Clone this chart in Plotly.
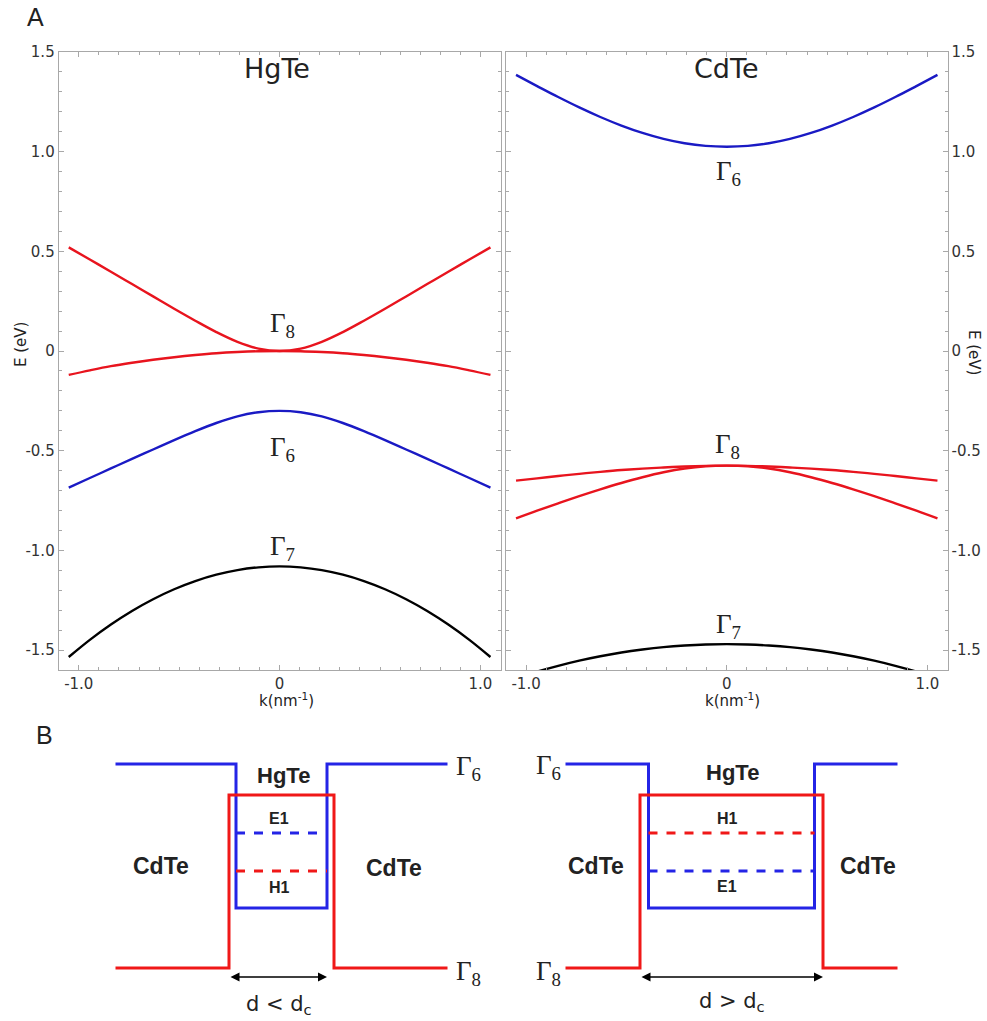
import plotly.graph_objects as go

W, H = 987, 1021

# ---------------- Panel A data ----------------
k = [-1.05, -0.945, -0.84, -0.735, -0.63, -0.525, -0.42, -0.315, -0.21, -0.105, 0.0,
     0.105, 0.21, 0.315, 0.42, 0.525, 0.63, 0.735, 0.84, 0.945, 1.05]

hgte_g8_up = [0.52, 0.459, 0.398, 0.336, 0.274, 0.212, 0.152, 0.095, 0.046, 0.012, 0.0,
              0.012, 0.046, 0.095, 0.152, 0.212, 0.274, 0.336, 0.398, 0.459, 0.52]
hgte_g8_dn = [-0.12, -0.097, -0.076, -0.059, -0.044, -0.031, -0.020, -0.011, -0.005, -0.001, 0.0,
              -0.001, -0.005, -0.011, -0.020, -0.031, -0.044, -0.059, -0.076, -0.097, -0.12]
hgte_g6 = [-0.685, -0.637, -0.589, -0.541, -0.494, -0.447, -0.402, -0.361, -0.328, -0.307, -0.30,
           -0.307, -0.328, -0.361, -0.402, -0.447, -0.494, -0.541, -0.589, -0.637, -0.685]
hgte_g7 = [-1.535, -1.449, -1.372, -1.304, -1.245, -1.195, -1.154, -1.122, -1.099, -1.085, -1.08,
           -1.085, -1.099, -1.122, -1.154, -1.195, -1.245, -1.304, -1.372, -1.449, -1.535]

cdte_g6 = [1.385, 1.329, 1.274, 1.222, 1.174, 1.131, 1.094, 1.064, 1.042, 1.029, 1.025,
           1.029, 1.042, 1.064, 1.094, 1.131, 1.174, 1.222, 1.274, 1.329, 1.385]
cdte_g8_hh = [-0.65, -0.639, -0.627, -0.616, -0.606, -0.597, -0.590, -0.584, -0.579, -0.576, -0.575,
              -0.576, -0.579, -0.584, -0.590, -0.597, -0.606, -0.616, -0.627, -0.639, -0.65]
cdte_g8_lh = [-0.84, -0.801, -0.764, -0.728, -0.694, -0.662, -0.633, -0.608, -0.589, -0.578, -0.575,
              -0.578, -0.589, -0.608, -0.633, -0.662, -0.694, -0.728, -0.764, -0.801, -0.84]
cdte_g7 = [-1.64, -1.608, -1.579, -1.553, -1.531, -1.512, -1.497, -1.485, -1.477, -1.472, -1.47,
           -1.472, -1.477, -1.485, -1.497, -1.512, -1.531, -1.553, -1.579, -1.608, -1.64]

y_tickvals = [1.5, 1.0, 0.5, 0.0, -0.5, -1.0, -1.5]
y_ticktext = ["1.5", "1.0", "0.5", "0", "-0.5", "-1.0", "-1.5"]
x_tickvals = [-1.0, 0.0, 1.0]
x_ticktext = ["-1.0", "0", "1.0"]

# ---------------- Panel B data (schematic band profiles) ----------------
barrier_edge = 16.6
thin_blue_half, thin_red_half = 4.55, 5.25
thick_blue_half, thick_red_half = 8.3, 9.15
g6_barrier, g6_well = 1.0, 0.294
g8_barrier, g8_well = 0.0, 0.848
level_upper, level_lower = 0.662, 0.475

RED_A = "#e8141e"
BLUE_A = "#1a1ac4"
RED_B = "#f01818"
BLUE_B = "#2424e6"
FRAME = "#a8a8a8"


def px(xp, yp):
    return xp / W, 1 - yp / H


fig = go.Figure()

# Panel A traces
for ys, col in [(hgte_g8_up, RED_A), (hgte_g8_dn, RED_A), (hgte_g6, BLUE_A), (hgte_g7, "black")]:
    fig.add_trace(go.Scatter(x=k, y=ys, mode="lines", line=dict(color=col, width=2.4, shape="spline"),
                             xaxis="x", yaxis="y", showlegend=False, hoverinfo="skip"))
for ys, col in [(cdte_g6, BLUE_A), (cdte_g8_hh, RED_A), (cdte_g8_lh, RED_A), (cdte_g7, "black")]:
    fig.add_trace(go.Scatter(x=k, y=ys, mode="lines", line=dict(color=col, width=2.4, shape="spline"),
                             xaxis="x2", yaxis="y2", showlegend=False, hoverinfo="skip"))


# Panel B traces
def well(xa, ya, blue_half, red_half, top_level_color, bottom_level_color):
    fig.add_trace(go.Scatter(x=[-barrier_edge, -blue_half, blue_half, barrier_edge],
                             y=[g6_barrier, g6_well, g6_barrier, g6_barrier],
                             mode="lines", line=dict(color=BLUE_B, width=3, shape="hv"),
                             xaxis=xa, yaxis=ya, showlegend=False, hoverinfo="skip"))
    fig.add_trace(go.Scatter(x=[-barrier_edge, -red_half, red_half, barrier_edge],
                             y=[g8_barrier, g8_well, g8_barrier, g8_barrier],
                             mode="lines", line=dict(color=RED_B, width=3, shape="hv"),
                             xaxis=xa, yaxis=ya, showlegend=False, hoverinfo="skip"))
    fig.add_trace(go.Scatter(x=[-blue_half, blue_half], y=[level_upper, level_upper],
                             mode="lines", line=dict(color=top_level_color, width=3, dash="dash"),
                             xaxis=xa, yaxis=ya, showlegend=False, hoverinfo="skip"))
    fig.add_trace(go.Scatter(x=[-blue_half, blue_half], y=[level_lower, level_lower],
                             mode="lines", line=dict(color=bottom_level_color, width=3, dash="dash"),
                             xaxis=xa, yaxis=ya, showlegend=False, hoverinfo="skip"))


well("x3", "y3", thin_blue_half, thin_red_half, BLUE_B, RED_B)
well("x4", "y4", thick_blue_half, thick_red_half, RED_B, BLUE_B)

# ---------------- Axes ----------------
tickfont = dict(family="DejaVu Sans", size=15, color="#333")
common_x = dict(range=[-1.1, 1.1], tickvals=x_tickvals, ticktext=x_ticktext,
                showline=True, linecolor=FRAME, linewidth=1, mirror="ticks",
                ticks="inside", ticklen=5, tickcolor=FRAME, showgrid=False, zeroline=False,
                tickfont=tickfont, automargin=False,
                minor=dict(tickmode="linear", tick0=0, dtick=0.1, ticks="inside", ticklen=3,
                           tickcolor=FRAME, showgrid=False))
common_y = dict(range=[-1.6, 1.5], tickvals=y_tickvals, ticktext=y_ticktext,
                showline=True, linecolor=FRAME, linewidth=1, mirror="ticks",
                ticks="inside", ticklen=5, tickcolor=FRAME, showgrid=False, zeroline=False,
                tickfont=tickfont, automargin=False,
                minor=dict(tickmode="linear", tick0=0, dtick=0.1, ticks="inside", ticklen=3,
                           tickcolor=FRAME, showgrid=False))

yA_dom = [1 - 670 / H, 1 - 52 / H]
fig.update_layout(
    xaxis=dict(domain=[58.7 / W, 500.5 / W], anchor="y", **common_x),
    yaxis=dict(domain=yA_dom, anchor="x", side="left", **common_y),
    xaxis2=dict(domain=[506 / W, 947.5 / W], anchor="y2", **common_x),
    yaxis2=dict(domain=yA_dom, anchor="x2", side="right", **common_y),
)

# Panel B hidden axes: 10 px per x unit, 204 px per energy unit
yB_top_px, yB_bot_px = 735.0, 1021.0
yB_range = [(968 - yB_bot_px) / 204, (968 - yB_top_px) / 204]
hidden = dict(visible=False, showgrid=False, zeroline=False, fixedrange=True, automargin=False)
fig.update_layout(
    xaxis3=dict(domain=[100 / W, 470 / W], range=[(100 - 281.5) / 10, (470 - 281.5) / 10], anchor="y3", **hidden),
    yaxis3=dict(domain=[1 - yB_bot_px / H, 1 - yB_top_px / H], range=yB_range, anchor="x3", **hidden),
    xaxis4=dict(domain=[520 / W, 940 / W], range=[(520 - 731.5) / 10, (940 - 731.5) / 10], anchor="y4", **hidden),
    yaxis4=dict(domain=[1 - yB_bot_px / H, 1 - yB_top_px / H], range=yB_range, anchor="x4", **hidden),
)

# ---------------- Annotations ----------------
ann = []


def add_text(text, xp, yp, size, family="DejaVu Sans", color="#222", angle=0, bold=False):
    x, y = px(xp, yp)
    if bold:
        text = "<b>" + text + "</b>"
    ann.append(dict(text=text, x=x, y=y, xref="paper", yref="paper", showarrow=False,
                    xanchor="center", yanchor="middle", textangle=angle,
                    font=dict(family=family, size=size, color=color)))


SERIF = "Liberation Serif"
SANS = "Liberation Sans"

add_text("A", 35, 17, 25, family=SANS)
add_text("B", 44, 735, 25, family=SANS)
add_text("HgTe", 277, 68, 27)
add_text("CdTe", 726, 68, 27)

add_text("Γ<sub>8</sub>", 282, 325, 27, family=SERIF)
add_text("Γ<sub>6</sub>", 282, 449, 27, family=SERIF)
add_text("Γ<sub>7</sub>", 282, 548, 27, family=SERIF)
add_text("Γ<sub>6</sub>", 728, 173, 27, family=SERIF)
add_text("Γ<sub>8</sub>", 727, 446, 27, family=SERIF)
add_text("Γ<sub>7</sub>", 728, 626, 27, family=SERIF)

add_text("E (eV)", 21, 345, 15, angle=-90)
add_text("E (eV)", 974, 352, 15, angle=90)
add_text("k(nm<sup>-1</sup>)", 286, 700, 15)
add_text("k(nm<sup>-1</sup>)", 732, 700, 15)

# Panel B labels
add_text("HgTe", 283, 775, 22, family=SANS, bold=True)
add_text("E1", 279, 818, 16, family=SANS, bold=True)
add_text("H1", 279, 887, 16, family=SANS, bold=True)
add_text("CdTe", 161, 866, 23, family=SANS, bold=True)
add_text("CdTe", 394, 868, 23, family=SANS, bold=True)
add_text("Γ<sub>6</sub>", 468, 768, 27, family=SERIF)
add_text("Γ<sub>8</sub>", 468, 973, 27, family=SERIF)
add_text("d &lt; d<sub>c</sub>", 279, 1005, 21)

add_text("HgTe", 732, 772, 22, family=SANS, bold=True)
add_text("H1", 727, 818, 16, family=SANS, bold=True)
add_text("E1", 727, 886, 16, family=SANS, bold=True)
add_text("CdTe", 596, 866, 23, family=SANS, bold=True)
add_text("CdTe", 868, 866, 23, family=SANS, bold=True)
add_text("Γ<sub>6</sub>", 548, 767, 27, family=SERIF)
add_text("Γ<sub>8</sub>", 548, 973, 27, family=SERIF)
add_text("d &gt; d<sub>c</sub>", 732, 1002, 21)

# d arrows (double headed) in schematic coordinates
arrow_y = (968 - 977) / 204
for xa, ya, x0, x1 in [("x3", "y3", -thin_red_half, thin_blue_half),
                       ("x4", "y4", -thick_red_half, thick_red_half)]:
    ann.append(dict(x=x1, y=arrow_y, ax=x0, ay=arrow_y, xref=xa, yref=ya, axref=xa, ayref=ya,
                    text="", showarrow=True, arrowhead=2, arrowsize=1.2, arrowwidth=1.5,
                    arrowcolor="black", arrowside="end+start"))

fig.update_layout(
    annotations=ann,
    width=W, height=H, autosize=False,
    margin=dict(l=0, r=0, t=0, b=0, pad=0, autoexpand=False),
    paper_bgcolor="white", plot_bgcolor="white",
    showlegend=False,
)

fig.write_html("out.html", config={"displayModeBar": False, "responsive": False},
               post_script="document.body.style.margin='0';document.body.style.overflow='hidden';")
